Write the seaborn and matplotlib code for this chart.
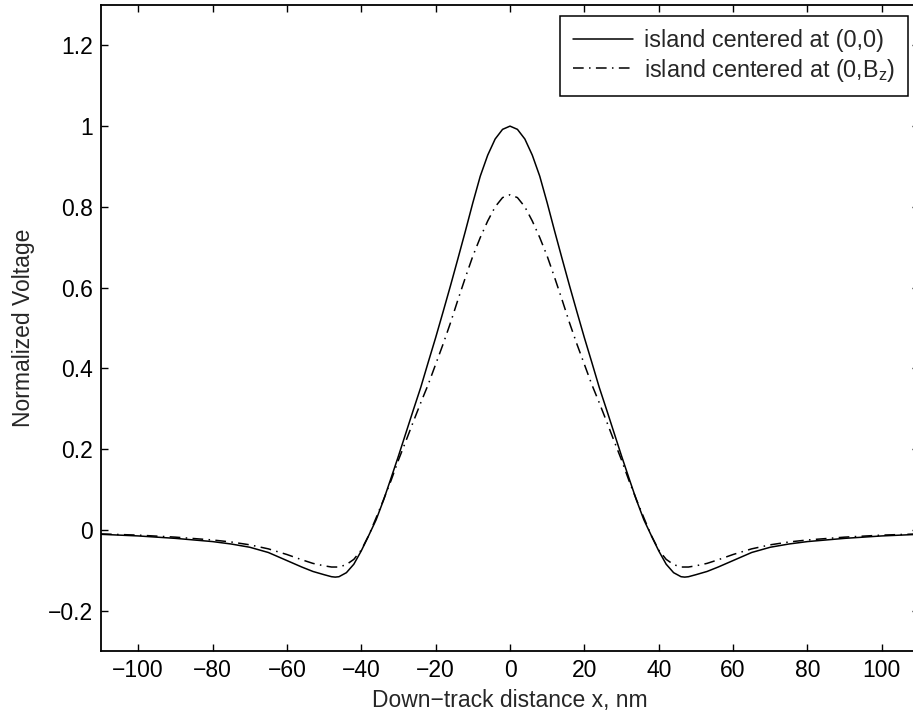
import numpy as np
import pandas as pd
import matplotlib
matplotlib.use("Agg")
import matplotlib.pyplot as plt
import seaborn as sns

# ---- data ----
x_nm = [-110, -100, -90, -80, -75, -70, -65, -60, -56, -53, -50, -48, -47, -46, -44, -42,
        -40, -38, -36, -34, -32, -30, -28, -26, -24, -22, -20, -18, -16, -14, -12, -10,
        -8, -6, -4, -2, 0,
        2, 4, 6, 8, 10, 12, 14, 16, 18, 20, 22, 24, 26, 28, 30, 32, 34, 36, 38, 40,
        42, 44, 46, 47, 48, 50, 53, 56, 60, 65, 70, 75, 80, 90, 100, 110]

v_center = [-0.011, -0.015, -0.021, -0.029, -0.035, -0.043, -0.056, -0.076, -0.092, -0.103,
            -0.111, -0.116, -0.117, -0.116, -0.106, -0.085, -0.052, -0.014, 0.025, 0.074,
            0.128, 0.183, 0.240, 0.297, 0.353, 0.415, 0.476, 0.540, 0.605, 0.672, 0.740,
            0.810, 0.876, 0.928, 0.968, 0.992, 1.000,
            0.992, 0.968, 0.928, 0.876, 0.810, 0.740, 0.672, 0.605, 0.540, 0.476, 0.415,
            0.353, 0.297, 0.240, 0.183, 0.128, 0.074, 0.025, -0.014, -0.052, -0.085,
            -0.106, -0.116, -0.117, -0.116, -0.111, -0.103, -0.092, -0.076, -0.056,
            -0.043, -0.035, -0.029, -0.021, -0.015, -0.011]

v_offset = [-0.010, -0.013, -0.018, -0.025, -0.030, -0.037, -0.047, -0.061, -0.074, -0.083,
            -0.089, -0.092, -0.092, -0.092, -0.086, -0.073, -0.050, -0.014, 0.030, 0.075,
            0.122, 0.173, 0.220, 0.268, 0.315, 0.360, 0.410, 0.460, 0.513, 0.570, 0.625,
            0.678, 0.724, 0.765, 0.800, 0.823, 0.830,
            0.823, 0.800, 0.765, 0.724, 0.678, 0.625, 0.570, 0.513, 0.460, 0.410, 0.360,
            0.315, 0.268, 0.220, 0.173, 0.122, 0.075, 0.030, -0.014, -0.050, -0.073,
            -0.086, -0.092, -0.092, -0.092, -0.089, -0.083, -0.074, -0.061, -0.047,
            -0.037, -0.030, -0.025, -0.018, -0.013, -0.010]

series_labels = ["island centered at (0,0)", r"island centered at (0,B$_\mathregular{z}$)"]
x_ticks = [-100, -80, -60, -40, -20, 0, 20, 40, 60, 80, 100]
x_tick_labels = ["\u2212100", "\u221280", "\u221260", "\u221240", "\u221220", "0",
                 "20", "40", "60", "80", "100"]
y_ticks = [-0.2, 0, 0.2, 0.4, 0.6, 0.8, 1.0, 1.2]
y_tick_labels = ["\u22120.2", "0", "0.2", "0.4", "0.6", "0.8", "1", "1.2"]
x_label = "Down\u2212track distance x, nm"
y_label = "Normalized Voltage"

# ---- styling ----
sns.set_style("ticks")
plt.rcParams["font.family"] = ["Liberation Sans", "DejaVu Sans"]
plt.rcParams["mathtext.fontset"] = "custom"
plt.rcParams["mathtext.rm"] = "Liberation Sans"
FS = 16.5

W, H = 913, 715
fig = plt.figure(figsize=(W / 100, H / 100), dpi=100)
fig.patch.set_facecolor("white")
ax = fig.add_axes([101 / W, 64 / H, 818 / W, 646 / H])
ax.set_facecolor("white")

df = pd.DataFrame({"x": x_nm, "center": v_center, "offset": v_offset})

sns.lineplot(data=df, x="x", y="center", ax=ax, color="black", linewidth=1.1,
             label=series_labels[0], sort=False)
sns.lineplot(data=df, x="x", y="offset", ax=ax, color="black", linewidth=1.1,
             label=series_labels[1], sort=False, linestyle=(0, (7, 3.5, 1, 3.5)))

ax.set_xlim(-110, 110)
ax.set_ylim(-0.3, 1.3)
ax.set_xticks(x_ticks)
ax.set_xticklabels(x_tick_labels)
ax.set_yticks(y_ticks)
ax.set_yticklabels(y_tick_labels)

for s in ax.spines.values():
    s.set_visible(True)
    s.set_linewidth(1.3)
    s.set_color("black")

ax.tick_params(direction="in", length=5, width=1.0, top=True, right=True,
               labelsize=FS, colors="black", pad=6)
ax.set_xlabel(x_label, fontsize=FS, labelpad=5)
ax.set_ylabel(y_label, fontsize=FS, labelpad=9)

leg = ax.legend(loc="upper right", bbox_to_anchor=(908 / W, 1 - 16 / H),
                bbox_transform=fig.transFigure, borderaxespad=0, fontsize=16.8,
                frameon=True, fancybox=False, framealpha=1, edgecolor="black",
                handlelength=2.6, handletextpad=0.45, labelspacing=0.2,
                borderpad=0.55)
leg.get_frame().set_linewidth(1.1)

fig.savefig("out.png", dpi=100)
